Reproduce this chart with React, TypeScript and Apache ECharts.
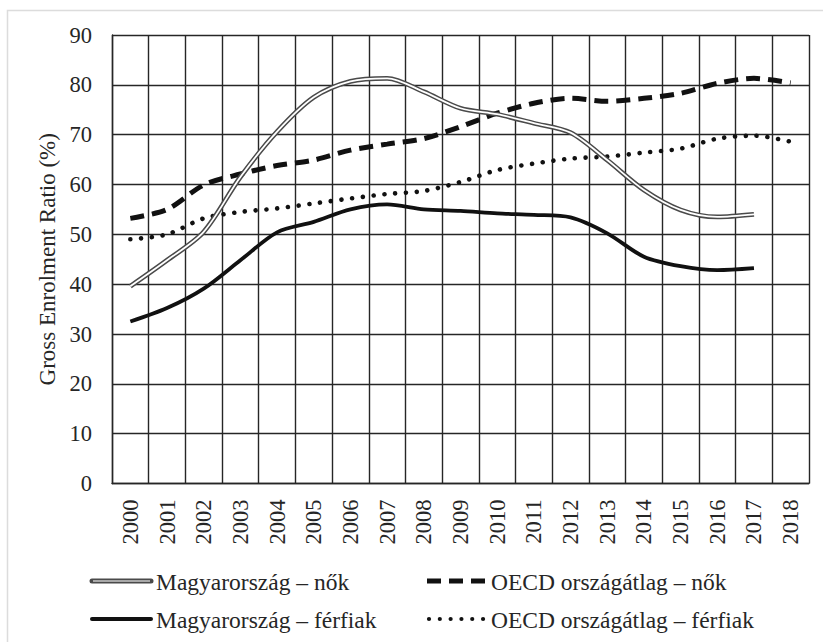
import React, { useEffect, useRef } from "react";
import * as echarts from "echarts";

const years = [
  "2000", "2001", "2002", "2003", "2004", "2005", "2006", "2007", "2008", "2009",
  "2010", "2011", "2012", "2013", "2014", "2015", "2016", "2017", "2018",
];
const huFemale = [39.6, 44.8, 50.5, 61.5, 70.6, 77.5, 80.7, 81.3, 78.6, 75.3, 74.1, 72.3, 70.4, 64.9, 58.9, 54.9, 53.5, 54.0, null];
const huMale = [32.5, 35.2, 39.1, 44.8, 50.4, 52.5, 55.0, 56.0, 55.0, 54.7, 54.2, 53.9, 53.4, 50.2, 45.5, 43.6, 42.8, 43.2, null];
const oecdFemale = [53.2, 55.0, 59.9, 62.1, 63.8, 64.9, 66.9, 68.1, 69.2, 71.6, 74.3, 76.3, 77.3, 76.7, 77.3, 78.3, 80.3, 81.3, 80.4];
const oecdMale = [49.0, 50.0, 53.2, 54.5, 55.2, 56.2, 57.2, 58.1, 58.7, 60.5, 62.9, 64.2, 65.2, 65.6, 66.4, 67.2, 69.2, 69.8, 68.6];

const seriesNames = [
  "Magyarország – nők",
  "OECD országátlag – nők",
  "Magyarország – férfiak",
  "OECD országátlag – férfiak",
];

const FONT = "'Liberation Serif', 'Times New Roman', serif";
const TEXT = "#262626";
const GRIDC = "#262626";

export default function App() {
  const ref = useRef<HTMLDivElement>(null);
  useEffect(() => {
    if (!ref.current) return;
    const chart = echarts.init(ref.current, null, { renderer: "svg" });
    const smooth = 0.3;
    chart.setOption({
      animation: false,
      backgroundColor: "#ffffff",
      textStyle: { fontFamily: FONT, color: TEXT },
      grid: { left: 112, right: 14, top: 35, bottom: 158.5, containLabel: false },
      xAxis: {
        type: "category",
        data: years,
        boundaryGap: true,
        axisLine: { show: true, lineStyle: { color: GRIDC, width: 1.4 } },
        axisTick: { show: false },
        axisLabel: { rotate: 90, margin: 16, fontSize: 22.5, fontFamily: FONT, color: TEXT },
        splitLine: { show: true, lineStyle: { color: GRIDC, width: 1.4 } },
      },
      yAxis: {
        type: "value",
        min: 0,
        max: 90,
        interval: 10,
        name: "Gross Enrolment Ratio (%)",
        nameLocation: "middle",
        nameGap: 51,
        nameTextStyle: { fontSize: 23, fontFamily: FONT, color: TEXT },
        axisLine: { show: true, lineStyle: { color: GRIDC, width: 1.4 } },
        axisTick: { show: false },
        axisLabel: { margin: 20, fontSize: 22.5, fontFamily: FONT, color: TEXT },
        splitLine: { show: true, lineStyle: { color: GRIDC, width: 1.4 } },
      },
      series: [
        {
          name: seriesNames[3],
          type: "line",
          data: oecdMale,
          smooth,
          symbol: "none",
          lineStyle: { color: "#111", width: 4.6, type: [0.01, 10.8], cap: "round" },
          z: 3,
        },
        {
          name: seriesNames[1],
          type: "line",
          data: oecdFemale,
          smooth,
          symbol: "none",
          lineStyle: { color: "#111", width: 5, type: [14, 8], cap: "butt" },
          z: 4,
        },
        {
          name: seriesNames[2],
          type: "line",
          data: huMale,
          smooth,
          symbol: "none",
          lineStyle: { color: "#111", width: 3.8 },
          z: 5,
        },
        {
          name: seriesNames[0],
          type: "line",
          data: huFemale,
          smooth,
          symbol: "none",
          lineStyle: { color: "#4a4a4a", width: 4.8 },
          z: 6,
        },
        {
          name: seriesNames[0] + " (inner)",
          type: "line",
          data: huFemale,
          smooth,
          symbol: "none",
          lineStyle: { color: "#ffffff", width: 1.8 },
          z: 7,
        },
      ],
      graphic: [
        {
          type: "rect",
          z: -10,
          shape: { x: 7.5, y: 10.5, width: 900, height: 700 },
          style: { fill: "none", stroke: "#dcdcdc", lineWidth: 1.5 },
        },
        // legend row 1 left: double line
        {
          type: "line",
          shape: { x1: 92, y1: 581, x2: 151, y2: 581 },
          style: { stroke: "#4a4a4a", lineWidth: 5, lineCap: "round" },
        },
        {
          type: "line",
          shape: { x1: 93, y1: 581, x2: 150, y2: 581 },
          style: { stroke: "#a8a8a8", lineWidth: 2 },
        },
        {
          type: "text",
          x: 156,
          y: 582,
          style: { text: seriesNames[0], font: `23.5px ${FONT}`, fill: TEXT, verticalAlign: "middle" },
        },
        // legend row 1 right: dashed
        {
          type: "line",
          shape: { x1: 427, y1: 581, x2: 486, y2: 581 },
          style: { stroke: "#111", lineWidth: 5, lineDash: [14, 8] },
        },
        {
          type: "text",
          x: 491,
          y: 582,
          style: { text: seriesNames[1], font: `23.5px ${FONT}`, fill: TEXT, verticalAlign: "middle" },
        },
        // legend row 2 left: solid
        {
          type: "line",
          shape: { x1: 92, y1: 619, x2: 151, y2: 619 },
          style: { stroke: "#111", lineWidth: 4, lineCap: "round" },
        },
        {
          type: "text",
          x: 156,
          y: 620,
          style: { text: seriesNames[2], font: `23.5px ${FONT}`, fill: TEXT, verticalAlign: "middle" },
        },
        // legend row 2 right: dotted
        {
          type: "line",
          shape: { x1: 429, y1: 619, x2: 486, y2: 619 },
          style: { stroke: "#111", lineWidth: 4.2, lineDash: [0.01, 10.8], lineCap: "round" },
        },
        {
          type: "text",
          x: 491,
          y: 620,
          style: { text: seriesNames[3], font: `23.5px ${FONT}`, fill: TEXT, verticalAlign: "middle" },
        },
      ],
    });
    return () => chart.dispose();
  }, []);
  return (
    <div
      ref={ref}
      style={{ position: "absolute", left: 0, top: 0, width: 823, height: 642, background: "#fff" }}
    />
  );
}
